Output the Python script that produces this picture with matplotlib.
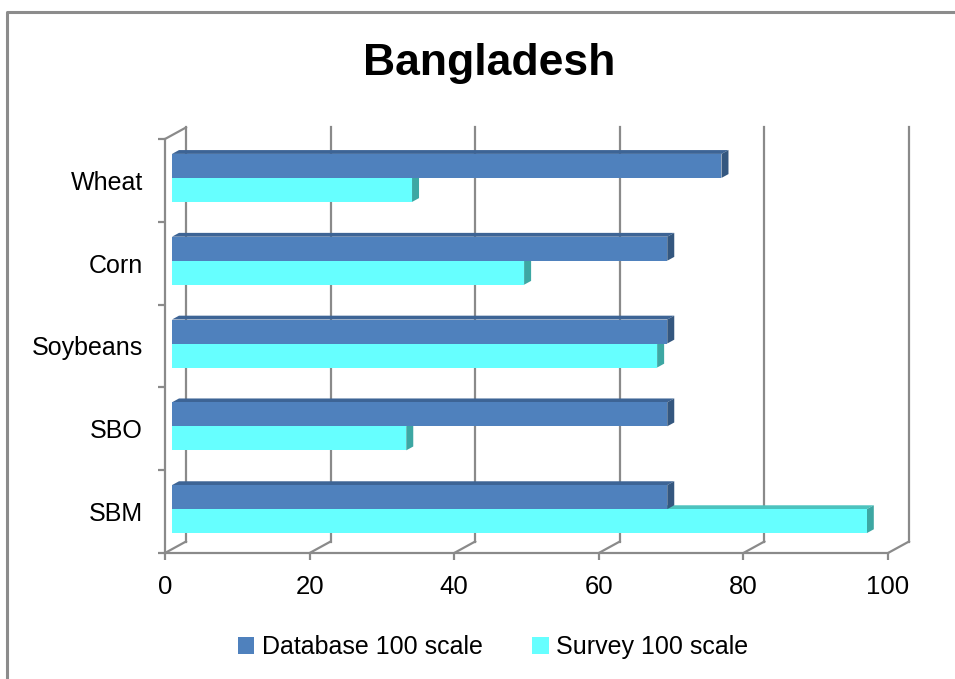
import matplotlib
matplotlib.use("Agg")
import matplotlib.pyplot as plt
from matplotlib.patches import Polygon, Patch

plt.rcParams['font.family'] = ['Liberation Sans', 'DejaVu Sans']

# data (bottom to top, like the chart's category axis)
categories = ["SBM", "SBO", "Soybeans", "Corn", "Wheat"]
database_100 = [68.5, 68.5, 68.5, 68.5, 76.0]
survey_100 = [96.1, 32.4, 67.1, 48.7, 33.2]
x_ticks = [0, 20, 40, 60, 80, 100]
series_names = ["Database 100 scale", "Survey 100 scale"]

DB_FRONT, DB_TOP, DB_SIDE = '#4F81BD', '#3D6495', '#34577F'
SV_FRONT, SV_TOP, SV_SIDE = '#66FFFF', '#4CC3BE', '#3DA7A3'
GRID = '#8A8A8A'

W, H = 955, 679
fig = plt.figure(figsize=(W / 100, H / 100), dpi=100)

# front plane of the pseudo-3D box in pixels
x0_px, x1_px = 165, 888
ytop_px, ybot_px = 139, 553
ax = fig.add_axes([x0_px / W, 1 - ybot_px / H, (x1_px - x0_px) / W, (ybot_px - ytop_px) / H])
ax.set_xlim(0, 100)
ax.set_ylim(-0.5, len(categories) - 0.5)

# depth of the box in data units (21 px right, 11.5 px up)
DX = 21 / ((x1_px - x0_px) / 100)
DY = 11.5 / ((ybot_px - ytop_px) / len(categories))
ytop = len(categories) - 0.5
ybot = -0.5

# back wall and floor
for t in x_ticks:
    ax.plot([t + DX, t + DX], [ybot + DY, ytop + DY], color=GRID, lw=1.6, clip_on=False, zorder=1)
    ax.plot([t, t + DX], [ybot, ybot + DY], color=GRID, lw=1.6, clip_on=False, zorder=1)
ax.plot([0, DX], [ytop, ytop + DY], color=GRID, lw=1.6, clip_on=False, zorder=1)

# bars: front face at 1/3 of the depth, back face at 2/3
d, dy = DX / 3, DY / 3
bar_h = 0.29


def draw_bar(yb, val, front, top, side, z):
    ax.barh(yb, val, height=bar_h, left=d, align='edge', color=front, lw=0, zorder=z + 0.2)
    xe = d + val
    yt = yb + bar_h
    ax.add_patch(Polygon([(d, yt), (xe, yt), (xe + d, yt + dy), (2 * d, yt + dy)],
                         closed=True, facecolor=top, lw=0, zorder=z))
    ax.add_patch(Polygon([(xe, yb), (xe + d, yb + dy), (xe + d, yt + dy), (xe, yt)],
                         closed=True, facecolor=side, lw=0, zorder=z + 0.1))


for i in range(len(categories)):
    draw_bar(i - 0.26, survey_100[i], SV_FRONT, SV_TOP, SV_SIDE, 2 + i)
    draw_bar(i + 0.03, database_100[i], DB_FRONT, DB_TOP, DB_SIDE, 2.5 + i)

# front axes
for s in ['top', 'right']:
    ax.spines[s].set_visible(False)
for s in ['left', 'bottom']:
    ax.spines[s].set_color(GRID)
    ax.spines[s].set_linewidth(1.6)
    ax.spines[s].set_zorder(10)

ax.set_xticks(x_ticks)
ax.set_xticklabels([str(t) for t in x_ticks])
ax.tick_params(axis='x', direction='out', length=5, width=1.6, color=GRID,
               labelsize=18.5, pad=11)
ax.set_yticks([i - 0.5 for i in range(len(categories) + 1)])
ax.set_yticklabels([])
ax.set_yticks(range(len(categories)), minor=True)
ax.set_yticklabels(categories, minor=True)
ax.tick_params(axis='y', which='major', direction='out', length=5, width=1.6, color=GRID)
ax.tick_params(axis='y', which='minor', length=0, labelsize=18, pad=16)
ax.set_facecolor('none')

fig.text(489 / W, 1 - 64 / H, "Bangladesh", ha='center', va='center',
         fontsize=32, fontweight='bold')

handles = [Patch(facecolor=DB_FRONT), Patch(facecolor=SV_FRONT)]
fig.legend(handles, series_names, loc='center', bbox_to_anchor=(493 / W, 1 - 647 / H),
           ncol=2, frameon=False, fontsize=18, handlelength=0.65, handleheight=0.65,
           handletextpad=0.3, columnspacing=2.0)

# chart border (top and left visible)
fig.add_artist(plt.Line2D([7 / W, 7 / W, 1], [0, 1 - 12 / H, 1 - 12 / H],
                          transform=fig.transFigure, color='#8C8C8C', lw=2.2))

fig.savefig("out.png", dpi=100, facecolor='white')
